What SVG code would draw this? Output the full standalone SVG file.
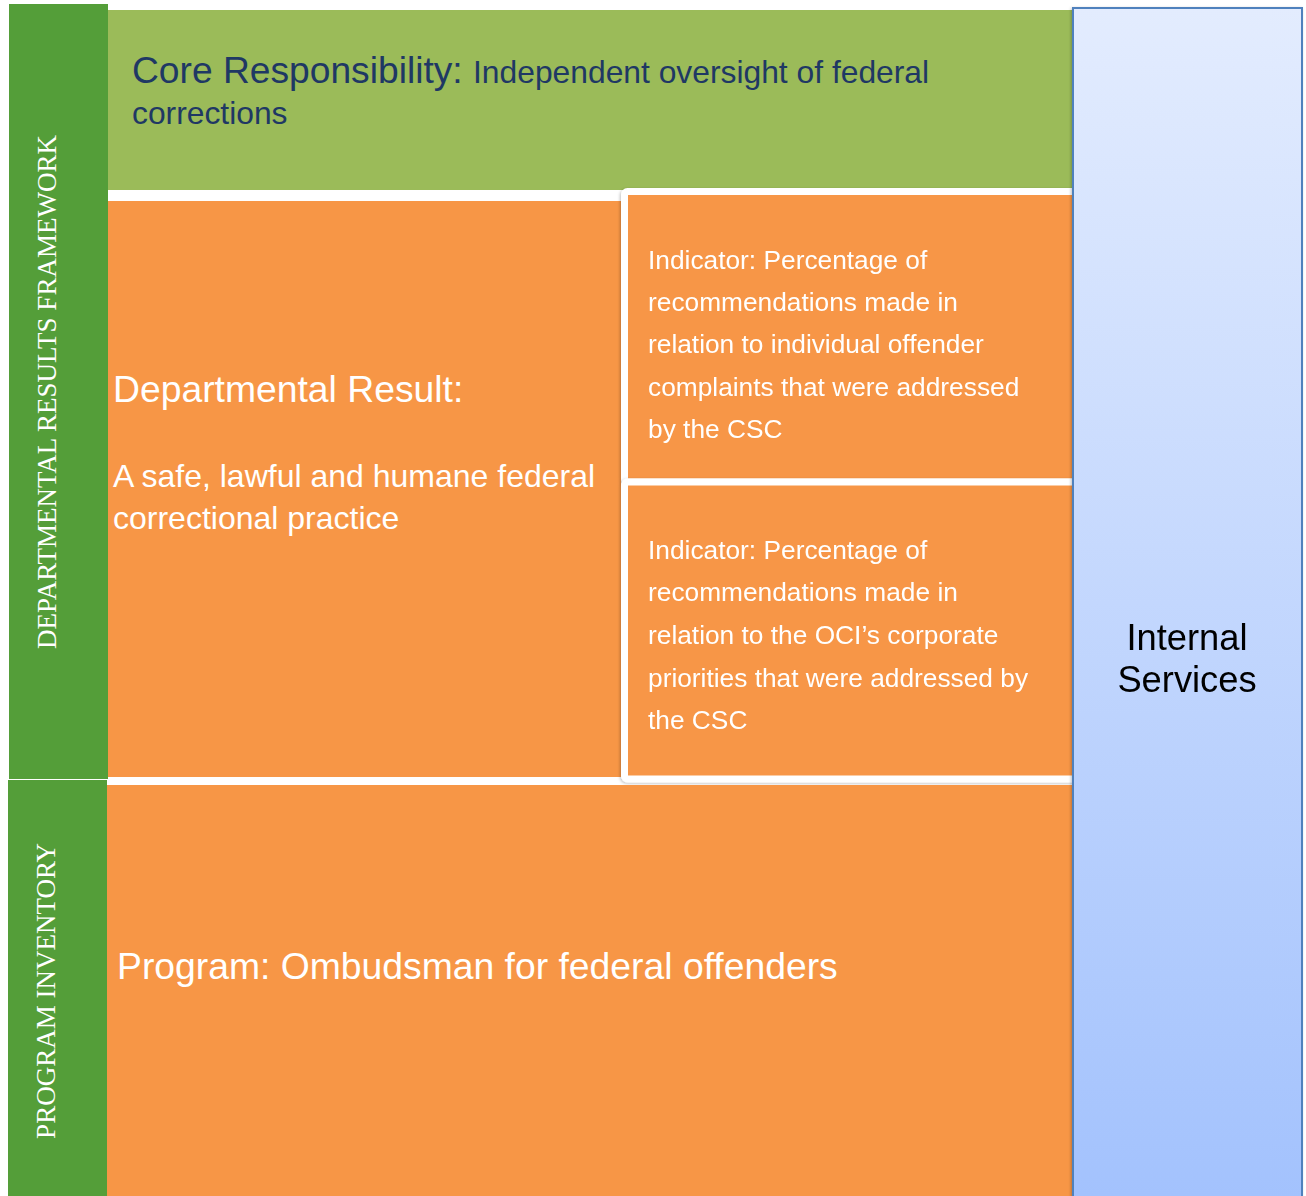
<svg xmlns="http://www.w3.org/2000/svg" width="1306" height="1196" viewBox="0 0 1306 1196">
  <defs>
    <linearGradient id="isGrad" x1="0" y1="0" x2="0" y2="1">
      <stop offset="0" stop-color="#E3ECFE"/>
      <stop offset="1" stop-color="#A3C2FD"/>
    </linearGradient>
    <filter id="shadow" x="-5%" y="-5%" width="110%" height="110%">
      <feDropShadow dx="-1" dy="1" stdDeviation="1.5" flood-color="#000" flood-opacity="0.25"/>
    </filter>
    <style>
      .band { fill: #549E39; }
      .core { fill: #9BBB59; }
      .orange { fill: #F79646; }
      .ind { fill: #F79646; stroke: #FFFFFF; stroke-width: 7; }
      .vlabel { font-family: "Liberation Serif", "Times New Roman", serif; font-size: 27px; fill: #FFFFFF; text-anchor: middle; }
      .sans { font-family: "Liberation Sans", Arial, sans-serif; }
      .white { fill: #FFFFFF; }
      .indtext { font-family: "Liberation Sans", Arial, sans-serif; font-size: 26.3px; fill: #FFFFFF; }
    </style>
  </defs>

  <rect width="1306" height="1196" fill="#FFFFFF"/>

  <g id="framework-band">
    <rect class="band" x="9" y="4" width="99" height="775"/>
    <text class="vlabel" transform="translate(56,392) rotate(-90)">DEPARTMENTAL RESULTS FRAMEWORK</text>
  </g>

  <g id="inventory-band">
    <rect class="band" x="8" y="780" width="99" height="416"/>
    <text class="vlabel" transform="translate(55,991) rotate(-90)">PROGRAM INVENTORY</text>
  </g>

  <g id="core-responsibility">
    <rect class="core" x="108" y="10" width="966" height="180"/>
    <text class="sans" x="132" y="83" fill="#1F3864"><tspan font-size="37.2px">Core Responsibility: </tspan><tspan font-size="31.8px">Independent oversight of federal</tspan></text>
    <text class="sans" x="132" y="124" font-size="31.8px" fill="#1F3864">corrections</text>
  </g>

  <g id="departmental-result">
    <rect class="orange" x="108" y="201" width="513" height="576"/>
    <text class="sans white" x="113" y="402" font-size="37.3px">Departmental Result:</text>
    <text class="sans white" x="113" y="487" font-size="32px">A safe, lawful and humane federal</text>
    <text class="sans white" x="113" y="529" font-size="32px">correctional practice</text>
  </g>

  <g id="indicator-1" filter="url(#shadow)">
    <rect class="ind" x="624.5" y="191.5" width="452" height="290.5" rx="3"/>
    <text class="indtext" x="648" y="269">Indicator: Percentage of</text>
    <text class="indtext" x="648" y="311">recommendations made in</text>
    <text class="indtext" x="648" y="353">relation to individual offender</text>
    <text class="indtext" x="648" y="396">complaints that were addressed</text>
    <text class="indtext" x="648" y="438">by the CSC</text>
  </g>

  <g id="indicator-2" filter="url(#shadow)">
    <rect class="ind" x="624.5" y="482" width="452" height="297" rx="3"/>
    <text class="indtext" x="648" y="559">Indicator: Percentage of</text>
    <text class="indtext" x="648" y="601">recommendations made in</text>
    <text class="indtext" x="648" y="644">relation to the OCI’s corporate</text>
    <text class="indtext" x="648" y="687">priorities that were addressed by</text>
    <text class="indtext" x="648" y="729">the CSC</text>
  </g>

  <g id="program">
    <rect class="orange" x="107" y="785" width="967" height="411"/>
    <text class="sans white" x="117" y="979" font-size="37.3px">Program: Ombudsman for federal offenders</text>
  </g>

  <g id="internal-services" filter="url(#shadow)">
    <rect x="1073" y="8" width="229" height="1190" fill="url(#isGrad)" stroke="#4F81BD" stroke-width="2"/>
    <text class="sans" x="1187" y="650" font-size="36.3px" fill="#000000" text-anchor="middle">Internal</text>
    <text class="sans" x="1187" y="692" font-size="36.3px" fill="#000000" text-anchor="middle">Services</text>
  </g>

  <g id="connectors"/>
</svg>
